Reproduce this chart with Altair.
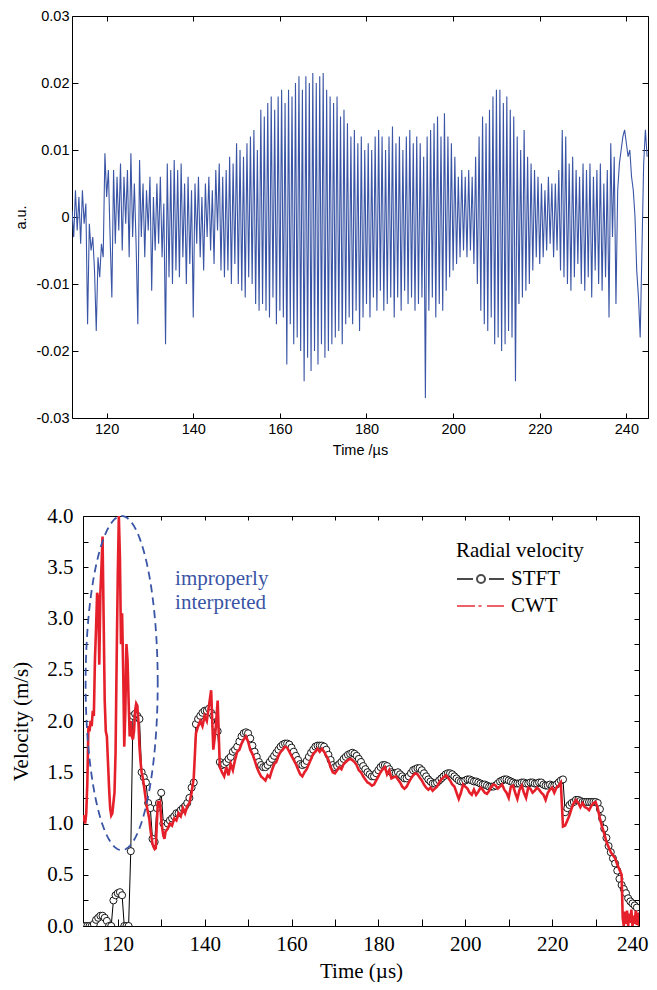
import altair as alt
import numpy as np
import pandas as pd

# ---------------- data: top panel (raw signal, values in 1e-3 a.u.) ----------------
SIG_T0 = 112.0
SIG_DT = 0.4
SIG_MILLI = [
    1, -3, 4, -2, 3, -4, 4, -1, 2, -16,            # 112.0
    -1, -5, -3, -8, -17, -6, -9, -4, -6, 9.5,      # 116.0
    3, 7, -3, -12, 7, -4, 6, -2, 8, -5,            # 120.0
    6, -1, 7, -6, 9.5, -3, 5, -4, -16, 8.5,        # 124.0
    -3, 5, -6, 4, -2, 6, -11, 3, -5, 5,            # 128.0
    -4, 6, -6, 2, -19, 8, -9, 7, -10, 8.5,         # 132.0
    -8, 7, -9, 8, -6, 5, -10, 6, -7, 4,            # 136.0
    -15, 5, -4, 6, -6, 3, -8, 5, -3, 6,            # 140.0
    -5, 4, -7, 7, -2, 8, -8, 6, -9, 7,             # 144.0
    -8, 9, -10, 8, -7, 11, -10, 10, -11, 9,        # 148.0
    -12, 11, -9, 12, -10, 13, -13, 10, -14, 16,    # 152.0
    -13, 15, -14, 17, -15, 18, -12, 16, -16, 18,   # 156.0
    -14, 19, -15, 17, -22, 19, -16, 18, -19, 20,   # 160.0
    -18, 21, -20, 19, -24.5, 21, -21, 20, -23, 21.5,  # 164.0
    -20, 20, -22, 21, -19, 21.5, -21, 19, -20, 18,    # 168.0
    -19, 17, -18, 18, -17, 15, -19, 16, -16, 14,   # 172.0
    -15, 12, -16, 13, -14, 11, -17, 12, -15, 10,   # 176.0
    -13, 11, -15, 10, -12, 12, -14, 13, -11, 12,   # 180.0
    -14, 10, -13, 12, -12, 13.5, -15, 11, -12, 12, # 184.0
    -14, 10, -11, 12, -13, 13, -12, 11, -14, 12,   # 188.0
    -13, 11, -12, 9, -27, 12, -14, 13, -12, 14,    # 192.0
    -15, 15, -13, 12, -14, 15.5, -11, 12, -9, 11,  # 196.0
    -8, 9, -7, 6, -6, 7, -5, 6, -6, 7,             # 200.0
    -5, 6, -7, 9, -10, 12, -14, 15, -16, 14,       # 204.0
    -17, 16, -15, 18, -19, 19, -18, 19, -20, 17,   # 208.0
    -19, 18, -17, 16, -18, 15, -24.5, 12, -13, 10, # 212.0
    -12, 13, -11, 9, -10, 8, -8, 7, -6, 6,         # 216.0
    -7, 5, -6, 4, -5, 6, -4, 5, -6, 5,             # 220.0
    -5, 7, -8, 13, -9, 12, -10, 8, -11, 9,         # 224.0
    -9, 7, -7, 6, -10, 8, -11, 7, -9, 8,           # 228.0
    -12, 6, -8, 7, -10, 8, -11, 5, -9, 7,          # 232.0
    -15, 11, -3, 9, -13, 4, 8, 10, 12, 13,         # 236.0
    11, 9, 10, 6, 4, 0, -8, -12, -18, -5,          # 240.0
    8, 13, 9,                                      # 244.0
]
TOP_X_TICKS = [120, 140, 160, 180, 200, 220, 240]
TOP_Y_TICKS = [-0.03, -0.02, -0.01, 0.0, 0.01, 0.02, 0.03]

# ---------------- data: bottom panel (radial velocity, m/s) ----------------
STFT_T0 = 112.0
STFT_DT = 0.5
STFT_V = [
    0, 0, 0, 0, 0, 0.02, 0.06, 0.08, 0.1, 0.1,
    0.08, 0.05, 0, 0, 0.25, 0.3, 0.32, 0.33, 0.3, 0,
    0, 0, 0.73, 2.05, 2.07, 2.05, 2.02, 1.5, 1.45, 1.4,
    1.2, 1.15, 0.85, 0.82, 1.15, 1.2, 1.3, 1.0, 0.97, 1.0,
    1.03, 1.05, 1.07, 1.1, 1.1, 1.13, 1.15, 1.17, 1.2, 1.25,
    1.35, 1.4, 1.97, 2.02, 2.05, 2.08, 2.1, 2.1, 2.12, 2.08,
    2.05, 1.95, 1.9, 1.6, 1.57, 1.58, 1.6, 1.63, 1.65, 1.7,
    1.72, 1.75, 1.8, 1.85, 1.88, 1.89, 1.88, 1.83, 1.76, 1.7,
    1.65, 1.6, 1.57, 1.55, 1.55, 1.57, 1.6, 1.63, 1.66, 1.69,
    1.72, 1.75, 1.77, 1.78, 1.78, 1.77, 1.74, 1.7, 1.66, 1.62,
    1.58, 1.57, 1.58, 1.61, 1.65, 1.69, 1.72, 1.75, 1.76, 1.76,
    1.76, 1.75, 1.72, 1.67, 1.62, 1.57, 1.55, 1.56, 1.58, 1.6,
    1.63, 1.65, 1.67, 1.68, 1.69, 1.68, 1.66, 1.63, 1.6, 1.56,
    1.53, 1.5, 1.48, 1.46, 1.46, 1.49, 1.52, 1.55, 1.57, 1.57,
    1.56, 1.53, 1.5, 1.49, 1.49, 1.5, 1.48, 1.46, 1.44, 1.44,
    1.46, 1.49, 1.52, 1.53, 1.54, 1.54, 1.52, 1.49, 1.46, 1.43,
    1.41, 1.39, 1.39, 1.4, 1.42, 1.44, 1.46, 1.48, 1.49, 1.49,
    1.48, 1.46, 1.44, 1.42, 1.41, 1.41, 1.42, 1.43, 1.43, 1.42,
    1.41, 1.41, 1.4, 1.39, 1.38, 1.38, 1.37, 1.36, 1.36, 1.36,
    1.37, 1.39, 1.41, 1.42, 1.43, 1.43, 1.42, 1.41, 1.4, 1.39,
    1.39, 1.39, 1.4, 1.4, 1.39, 1.39, 1.4, 1.4, 1.39, 1.39,
    1.4, 1.4, 1.38, 1.37, 1.37, 1.38, 1.37, 1.37, 1.38, 1.4,
    1.42, 1.43, 1.11, 1.15, 1.18, 1.2, 1.21, 1.23, 1.23, 1.22,
    1.21, 1.21, 1.21, 1.21, 1.21, 1.21, 1.21, 1.2, 1.14, 1.05,
    0.95, 0.86, 0.78, 0.72, 0.66, 0.61, 0.54, 0.46, 0.4, 0.36,
    0.32, 0.27, 0.24, 0.22, 0.2, 0.18,
]

# CWT in three sampled stretches: (start, step, values)
CWT_A_T0, CWT_A_DT = 112.0, 0.25
CWT_A_V = [
    1.02, 1.08, 1.0, 1.1, 1.4, 1.95, 1.9, 2.0, 1.95, 2.1,
    2.05, 2.6, 2.9, 3.25, 3.2, 2.55, 3.25, 3.5, 3.8, 3.0,
    2.2, 1.9, 1.85, 1.6, 1.35, 1.15, 1.08, 1.1, 1.2, 1.3,
    1.7, 2.6, 3.4, 4.0, 3.6, 2.75, 3.05, 2.5, 1.75, 2.1,
    2.75, 2.6, 2.2, 1.85, 2.0, 1.85, 1.82, 1.9, 2.1, 2.17,
    2.15, 2.0, 1.75, 1.6, 1.5, 1.45, 1.38, 1.3, 1.22, 1.15,
    1.1, 1.05, 0.95, 0.87, 0.8, 0.77, 0.75, 0.76, 1.0, 1.22,
    1.18, 1.2, 1.05, 0.95, 0.88, 0.85, 0.92,
]
CWT_B_T0, CWT_B_DT = 131.5, 0.5
CWT_B_V = [
    0.95, 1.0, 0.98, 1.05, 1.03, 1.1, 1.07, 1.15, 1.1, 1.17,
    1.2, 1.3, 1.45, 1.88, 1.95, 2.0, 1.95, 2.05, 2.0, 2.15,
    2.3, 1.72, 1.9, 2.2, 1.55, 1.5, 1.46, 1.55, 1.47, 1.58,
    1.52, 1.62, 1.7, 1.72, 1.78, 1.82, 1.85, 1.8, 1.72, 1.68,
    1.62, 1.55, 1.5, 1.46, 1.44, 1.42, 1.47, 1.45, 1.52, 1.58,
    1.6, 1.66, 1.7, 1.72, 1.75, 1.74, 1.7, 1.66, 1.62, 1.58,
    1.53, 1.48, 1.46, 1.5, 1.53, 1.58, 1.63, 1.68, 1.7, 1.73,
    1.7, 1.73, 1.7, 1.66, 1.62, 1.55, 1.5, 1.49, 1.52, 1.55,
    1.53, 1.58, 1.6, 1.62, 1.63, 1.62, 1.6, 1.57, 1.52, 1.5,
    1.46, 1.43, 1.4, 1.39, 1.37, 1.38, 1.42, 1.46, 1.5, 1.53,
    1.55, 1.48, 1.52, 1.44, 1.45, 1.46, 1.43, 1.4, 1.36, 1.34,
    1.36, 1.4, 1.44, 1.47, 1.49, 1.48, 1.45, 1.42, 1.38, 1.35,
    1.33, 1.35, 1.32, 1.34, 1.36, 1.4, 1.43, 1.45, 1.47, 1.45,
    1.42, 1.38, 1.36, 1.3, 1.24, 1.3, 1.38, 1.36, 1.34, 1.3,
    1.28, 1.33, 1.28, 1.31, 1.35, 1.33, 1.3, 1.29, 1.32, 1.36,
    1.38, 1.37, 1.34, 1.36, 1.38, 1.33, 1.3, 1.25, 1.36, 1.37,
    1.3, 1.24, 1.33, 1.37, 1.3, 1.25, 1.35, 1.34, 1.3, 1.32,
    1.35, 1.33, 1.3, 1.28, 1.23, 1.3, 1.33, 1.35, 1.3, 1.35,
    1.37, 1.4, 0.97, 0.98, 1.03, 1.08, 1.15, 1.2, 1.23, 1.2,
    1.16, 1.2, 1.16, 1.15, 1.13, 1.17, 1.2, 1.21, 1.15, 1.05,
    0.97, 0.9, 0.82, 0.77, 0.72, 0.69, 0.66, 0.6, 0.55, 0.5,
]
CWT_C_T0, CWT_C_DT = 236.25, 0.25
CWT_C_V = [0.08, 0.0, 0.14, 0.02, 0.15, 0.0, 0.12, 0.03,
           0.16, 0.0, 0.1, 0.02, 0.15, 0.01, 0.13, 0.0]

BOT_X_TICKS = [120, 130, 140, 150, 160, 170, 180, 190, 200, 210, 220, 230, 240]
BOT_Y_TICKS = [0, 0.25, 0.5, 0.75, 1.0, 1.25, 1.5, 1.75, 2.0, 2.25, 2.5, 2.75,
               3.0, 3.25, 3.5, 3.75, 4.0]

ELLIPSE_CENTER = (120.9, 2.37)   # (µs, m/s)
ELLIPSE_SEMI = (8.3, 1.63)
ANNOT_LINES = ["improperly", "interpreted"]
ANNOT_T = [133.2, 133.2]
ANNOT_V = [3.33, 3.09]

METHODS = ["STFT", "CWT"]

# ---------------- styles ----------------
BLUE = "#3a55a5"
RED = "#e6202a"
SANS = "Liberation Sans"
SERIF = "Liberation Serif"

# ---------------- frames ----------------
top_df = pd.DataFrame({
    "t": SIG_T0 + SIG_DT * np.arange(len(SIG_MILLI)),
    "a": np.array(SIG_MILLI, dtype=float) / 1000.0,
})
stft_df = pd.DataFrame({"t": STFT_T0 + STFT_DT * np.arange(len(STFT_V)), "v": STFT_V})
cwt_df = pd.concat([
    pd.DataFrame({"t": CWT_A_T0 + CWT_A_DT * np.arange(len(CWT_A_V)), "v": CWT_A_V}),
    pd.DataFrame({"t": CWT_B_T0 + CWT_B_DT * np.arange(len(CWT_B_V)), "v": CWT_B_V}),
    pd.DataFrame({"t": CWT_C_T0 + CWT_C_DT * np.arange(len(CWT_C_V)), "v": CWT_C_V}),
], ignore_index=True)
ang = np.linspace(0, 2 * np.pi, 241)
ell_df = pd.DataFrame({
    "i": np.arange(len(ang)),
    "t": ELLIPSE_CENTER[0] + ELLIPSE_SEMI[0] * np.cos(ang),
    "v": ELLIPSE_CENTER[1] + ELLIPSE_SEMI[1] * np.sin(ang),
})
annot_df = pd.DataFrame({"t": ANNOT_T, "v": ANNOT_V, "txt": ANNOT_LINES})
legend_df = pd.DataFrame({"method": METHODS})


def axis(orient, values, tick, font, size, labels=True, title=None,
         label_pad=4, title_pad=8, label_expr=None, flush_offset=0):
    kw = dict(orient=orient, values=values, tickSize=tick, offset=-tick,
              domain=False, grid=False, ticks=True, tickColor="black",
              tickWidth=1, labels=labels, labelOverlap=False,
              minExtent=0, maxExtent=300)
    if flush_offset:
        kw.update(labelFlush=True, labelFlushOffset=flush_offset)
    else:
        kw["labelFlush"] = False
    if labels:
        kw.update(labelFont=font, labelFontSize=size, labelColor="black",
                  labelPadding=label_pad)
    if label_expr:
        kw["labelExpr"] = label_expr
    if title:
        kw.update(title=title, titleFont=font, titleFontSize=size,
                  titleFontWeight="normal", titleColor="black",
                  titlePadding=title_pad)
    else:
        kw["title"] = None
    return alt.Axis(**kw)


# ---------------- top panel ----------------
xs_top = alt.Scale(domain=[112, 245], nice=False, zero=False)
ys_top = alt.Scale(domain=[-0.03, 0.03], nice=False, zero=False)
top_ylab = ("datum.value == 0 ? '0' : (datum.value < 0 ? '-' + format(-datum.value, '.2f')"
            " : format(datum.value, '.2f'))")

top_main = alt.Chart(top_df).mark_line(color=BLUE, strokeWidth=1.1, clip=True).encode(
    x=alt.X("t:Q", scale=xs_top,
            axis=axis("bottom", TOP_X_TICKS, 5, SANS, 14.5, title="Time /µs",
                      label_pad=4, title_pad=8)),
    y=alt.Y("a:Q", scale=ys_top,
            axis=axis("left", TOP_Y_TICKS, 6, SANS, 14.5, title="a.u.",
                      label_pad=3, title_pad=7, label_expr=top_ylab)),
)
top_frame = alt.Chart(top_df).mark_line(opacity=0).encode(
    x=alt.X("t:Q", scale=xs_top, axis=axis("top", TOP_X_TICKS, 5, SANS, 14.5, labels=False)),
    y=alt.Y("a:Q", scale=ys_top, axis=axis("right", TOP_Y_TICKS, 6, SANS, 14.5, labels=False)),
)
top = alt.layer(top_main, top_frame).resolve_axis(
    x="independent", y="independent").properties(width=576, height=402)

# ---------------- bottom panel ----------------
xs_bot = alt.Scale(domain=[112, 240], nice=False, zero=False)
ys_bot = alt.Scale(domain=[0, 4], nice=False, zero=False)
bx_lab = "datum.value % 20 == 0 ? datum.label : ''"
by_lab = "(round(datum.value * 4) % 2 == 0) ? format(datum.value, '.1f') : ''"

X_NONE = dict(scale=xs_bot, axis=None)
Y_NONE = dict(scale=ys_bot, axis=None)

stft_line = alt.Chart(stft_df).mark_line(color="black", strokeWidth=1, clip=True).encode(
    x=alt.X("t:Q", scale=xs_bot,
            axis=axis("bottom", BOT_X_TICKS, 7, SERIF, 21, title="Time (µs)",
                      label_pad=7, title_pad=6, label_expr=bx_lab, flush_offset=9)),
    y=alt.Y("v:Q", scale=ys_bot,
            axis=axis("left", BOT_Y_TICKS, 5, SERIF, 21, title="Velocity (m/s)",
                      label_pad=10, title_pad=15, label_expr=by_lab)),
)
stft_pts = alt.Chart(stft_df).mark_point(
    shape="circle", size=50, filled=True, fill="white", stroke="black",
    strokeWidth=0.9, opacity=1, clip=True
).encode(x=alt.X("t:Q", **X_NONE), y=alt.Y("v:Q", **Y_NONE))
cwt_line = alt.Chart(cwt_df).mark_line(color=RED, strokeWidth=2.6, clip=True).encode(
    x=alt.X("t:Q", **X_NONE), y=alt.Y("v:Q", **Y_NONE))
ellipse = alt.Chart(ell_df).mark_line(
    color=BLUE, strokeWidth=1.8, strokeDash=[8, 5], clip=False
).encode(x=alt.X("t:Q", **X_NONE), y=alt.Y("v:Q", **Y_NONE), order="i:Q")
annot = alt.Chart(annot_df).mark_text(
    align="left", baseline="alphabetic", font=SERIF, fontSize=21, color=BLUE
).encode(x=alt.X("t:Q", **X_NONE), y=alt.Y("v:Q", **Y_NONE), text="txt:N")

STFT_SYM = "M-1,0H0.6M2.2,0H3.7M1.8,0A0.4,0.4,0,1,1,1.0,0A0.4,0.4,0,1,1,1.8,0"
CWT_SYM = "M-1,0H0.8M1.15,0H1.45M2.0,0H3.7"
LEG = dict(title="Radial velocity", orient="none", legendX=373, legendY=24,
           titleFont=SERIF, titleFontSize=21, titleFontWeight="normal",
           titleColor="black", titlePadding=7, titleAnchor="start",
           labelFont=SERIF, labelFontSize=21, labelColor="black",
           labelOffset=33, symbolSize=400, symbolStrokeWidth=2,
           rowPadding=6, padding=0)
legend_layer = alt.Chart(legend_df).mark_point(filled=False, strokeWidth=2).encode(
    color=alt.Color("method:N", scale=alt.Scale(domain=METHODS, range=["black", RED]),
                    legend=alt.Legend(**LEG)),
    shape=alt.Shape("method:N", scale=alt.Scale(domain=METHODS, range=[STFT_SYM, CWT_SYM]),
                    legend=alt.Legend(**LEG)),
).transform_filter("false")

bot_frame = alt.Chart(stft_df).mark_line(opacity=0).encode(
    x=alt.X("t:Q", scale=xs_bot, axis=axis("top", BOT_X_TICKS, 4, SERIF, 21, labels=False)),
    y=alt.Y("v:Q", scale=ys_bot, axis=axis("right", BOT_Y_TICKS, 5, SERIF, 21, labels=False)),
)

bottom = alt.layer(stft_line, stft_pts, cwt_line, ellipse, annot, legend_layer, bot_frame
                   ).resolve_axis(x="independent", y="independent"
                   ).properties(width=556, height=410)

# invisible 11-px spacer so the lower frame sits 11 px to the right of the upper one
spacer = alt.Chart(pd.DataFrame({"z": [0]})).mark_point(opacity=0).properties(
    width=11, height=1, view=alt.ViewBackground(stroke="transparent"))

bottom_row = alt.hconcat(spacer, bottom, spacing=0, bounds="flush").resolve_legend(
    color="independent", shape="independent")

chart = alt.vconcat(top, bottom_row, spacing=98, bounds="flush").resolve_legend(
    color="independent", shape="independent"
).properties(
    padding={"left": 2, "top": -1, "right": 0, "bottom": 0}
).configure_view(stroke="black", strokeWidth=1)

chart.save("out.html", embed_options={"renderer": "svg", "actions": False})
